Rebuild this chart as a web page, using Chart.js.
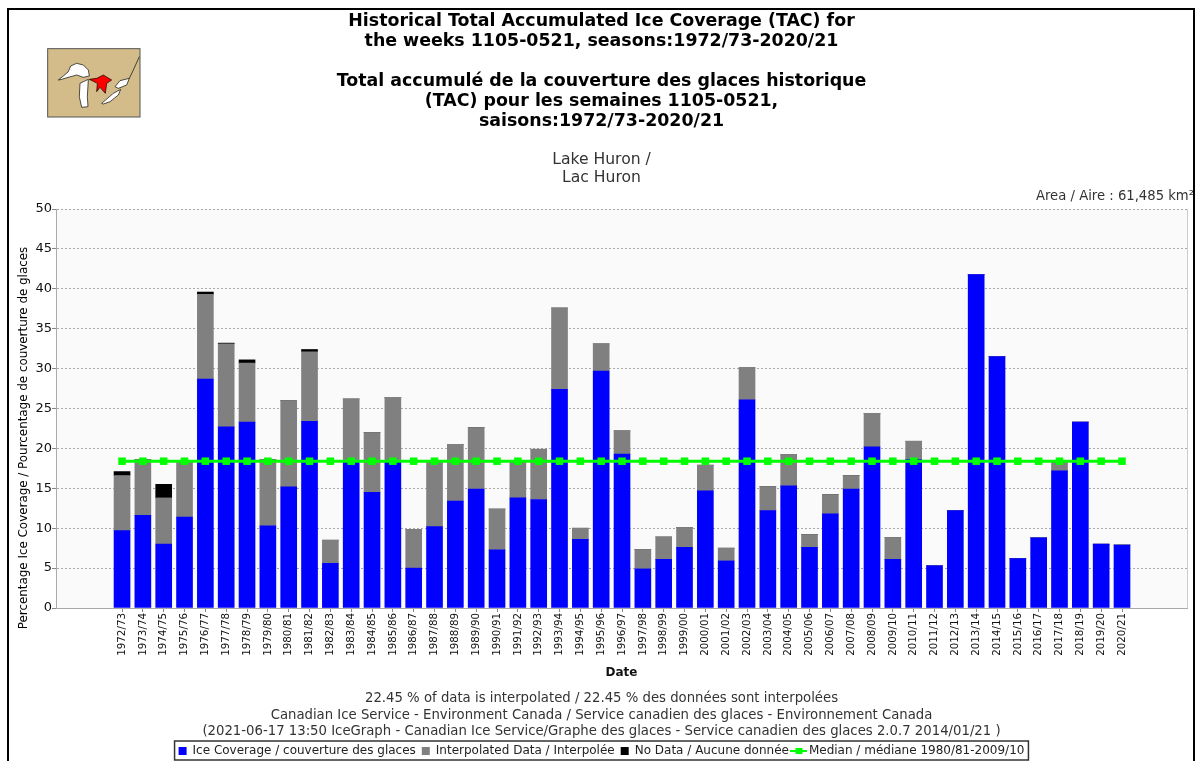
<!DOCTYPE html>
<html>
<head>
<meta charset="utf-8">
<style>
  html, body { margin: 0; padding: 0; background: #fff; overflow: hidden; }
  #wrap { width: 1197px; height: 761px; }
</style>
<script src="https://cdn.jsdelivr.net/npm/chart.js@4"></script>
</head>
<body>
<div id="wrap"><canvas id="myChart"></canvas></div>
<script>
const SEASONS = ["1972/73","1973/74","1974/75","1975/76","1976/77","1977/78","1978/79","1979/80","1980/81","1981/82","1982/83","1983/84","1984/85","1985/86","1986/87","1987/88","1988/89","1989/90","1990/91","1991/92","1992/93","1993/94","1994/95","1995/96","1996/97","1997/98","1998/99","1999/00","2000/01","2001/02","2002/03","2003/04","2004/05","2005/06","2006/07","2007/08","2008/09","2009/10","2010/11","2011/12","2012/13","2013/14","2014/15","2015/16","2016/17","2017/18","2018/19","2019/20","2020/21"];
const ICE_COVERAGE = [9.7,11.6,8.0,11.4,28.7,22.7,23.3,10.3,15.2,23.4,5.6,18.3,14.5,18.4,5.0,10.2,13.4,14.9,7.3,13.8,13.6,27.4,8.6,29.7,19.3,4.9,6.1,7.6,14.7,5.9,26.1,12.2,15.3,7.6,11.8,14.9,20.2,6.1,18.6,5.3,12.2,41.8,31.5,6.2,8.8,17.2,23.3,8.0,7.9];
const INTERPOLATED = [6.9,7.0,5.8,7.0,10.6,10.4,7.4,8.3,10.8,8.7,2.9,7.9,7.5,8.0,4.8,8.3,7.1,7.7,5.1,4.7,6.3,10.2,1.4,3.4,2.9,2.4,2.8,2.5,3.2,1.6,4.0,3.0,3.9,1.6,2.4,1.7,4.2,2.7,2.3,0,0,0,0,0,0,1.1,0,0,0];
const NO_DATA = [0.5,0,1.7,0,0.3,0.1,0.4,0,0,0.3,0,0,0,0,0,0,0,0,0,0,0,0,0,0,0,0,0,0,0,0,0,0,0,0,0,0,0,0,0,0,0,0,0,0,0,0,0,0,0];
const MEDIAN = [18.4,18.4,18.4,18.4,18.4,18.4,18.4,18.4,18.4,18.4,18.4,18.4,18.4,18.4,18.4,18.4,18.4,18.4,18.4,18.4,18.4,18.4,18.4,18.4,18.4,18.4,18.4,18.4,18.4,18.4,18.4,18.4,18.4,18.4,18.4,18.4,18.4,18.4,18.4,18.4,18.4,18.4,18.4,18.4,18.4,18.4,18.4,18.4,18.4];

const TITLE_LINES = [
  "Historical Total Accumulated Ice Coverage (TAC) for",
  "the weeks 1105-0521, seasons:1972/73-2020/21",
  "",
  "Total accumulé de la couverture des glaces historique",
  "(TAC) pour les semaines 1105-0521,",
  "saisons:1972/73-2020/21",
];
const LAKE_LINES = ["Lake Huron /", "Lac Huron"];
const FOOTER_LINES = [
  "22.45 % of data is interpolated / 22.45 % des données sont interpolées",
  "Canadian Ice Service - Environment Canada / Service canadien des glaces - Environnement Canada",
  "(2021-06-17 13:50 IceGraph - Canadian Ice Service/Graphe des glaces - Service canadien des glaces 2.0.7 2014/01/21 )",
];
const AREA_LABEL = "Area / Aire : 61,485 km²";
const Y_LABEL = "Percentage Ice Coverage / Pourcentage de couverture de glaces";

const FONT = "'DejaVu Sans', sans-serif";
const toPoints = (arr) => arr.map((v, i) => ({ x: i, y: v }));

// small line + square swatch for the median legend entry
const medianSwatch = document.createElement("canvas");
medianSwatch.width = 17;
medianSwatch.height = 8;
const sw = medianSwatch.getContext("2d");
sw.fillStyle = "#00ff00";
sw.fillRect(0, 3, 17, 2);
sw.fillRect(5, 1, 7, 6);

function drawMap(ctx) {
  // locator map, outlines traced in a 3x crop of the reference
  ctx.save();
  ctx.scale(1 / 3, 1 / 3);
  ctx.fillStyle = "#d3bc8a";
  ctx.fillRect(143, 146, 277, 205);
  ctx.strokeStyle = "#555";
  ctx.lineWidth = 3;
  ctx.strokeRect(143, 146, 277, 205);
  const lake = (d, fill) => {
    const p = new Path2D(d);
    ctx.fillStyle = fill;
    ctx.fill(p);
    ctx.strokeStyle = "#000";
    ctx.lineWidth = 2;
    ctx.stroke(p);
  };
  lake("M175 240 L190 228 L205 215 L212 198 L230 190 L250 195 L265 210 L268 228 L250 232 L230 225 L205 232 L185 238 Z", "#fff");
  lake("M240 250 L265 238 L262 290 L264 320 L245 322 L238 290 Z", "#fff");
  lake("M305 310 L340 280 L362 268 L355 285 L330 305 L310 312 Z", "#fff");
  lake("M345 260 L360 242 L388 235 L380 255 L355 265 Z", "#fff");
  lake("M268 238 L290 235 L310 225 L335 240 L320 250 L316 280 L300 262 L290 275 L292 250 Z", "#f00");
  ctx.beginPath();
  ctx.moveTo(388, 235);
  ctx.lineTo(400, 210);
  ctx.lineTo(418, 170);
  ctx.stroke();
  ctx.restore();
}

const pagePlugin = {
  id: "page",
  beforeDraw(chart) {
    const { ctx, chartArea: a } = chart;
    ctx.save();
    ctx.fillStyle = "#fff";
    ctx.fillRect(0, 0, chart.width, chart.height);
    ctx.fillStyle = "#fafafa";
    ctx.fillRect(a.left, a.top, a.right - a.left, a.bottom - a.top);
    ctx.strokeStyle = "#ccc";
    ctx.beginPath();
    ctx.moveTo(a.right + 0.5, a.top);
    ctx.lineTo(a.right + 0.5, a.bottom);
    ctx.stroke();
    ctx.restore();
  },
  afterDraw(chart) {
    const { ctx } = chart;
    ctx.save();
    // outer frame, runs off the bottom of the picture
    ctx.strokeStyle = "#000";
    ctx.lineWidth = 2;
    ctx.strokeRect(8, 9, 1186, 800);

    drawMap(ctx);

    ctx.fillStyle = "#333";
    ctx.textBaseline = "middle";
    ctx.textAlign = "center";
    ctx.font = "15.6px " + FONT;
    ctx.fillText(LAKE_LINES[0], 601.5, 160);
    ctx.fillText(LAKE_LINES[1], 601.5, 177.5);

    ctx.font = "13.2px " + FONT;
    ctx.textAlign = "right";
    ctx.fillText(AREA_LABEL, 1194, 197);

    // y title sits lower than the middle of the axis in the original
    ctx.save();
    ctx.translate(24, 438);
    ctx.rotate(-Math.PI / 2);
    ctx.textAlign = "center";
    ctx.fillStyle = "#000";
    ctx.font = "11.9px " + FONT;
    ctx.fillText(Y_LABEL, 0, 0);
    ctx.restore();

    // box round the legend
    const hit = chart.legend.legendHitBoxes;
    const last = hit[hit.length - 1];
    ctx.strokeStyle = "#333";
    ctx.lineWidth = 1.5;
    ctx.strokeRect(hit[0].left - 4, hit[0].top - 4, last.left + last.width - hit[0].left + 8, 19);
    ctx.restore();
  },
};

const data = {
  datasets: [
    {
      type: "line",
      label: "Median / médiane 1980/81-2009/10",
      data: toPoints(MEDIAN),
      order: 0,
      stack: "median",
      borderColor: "#00ff00",
      backgroundColor: "#00ff00",
      borderWidth: 3,
      pointStyle: "rect",
      pointRadius: 5.3,
      pointBackgroundColor: "#00ff00",
      pointBorderWidth: 0,
    },
    { label: "Ice Coverage / couverture des glaces", data: toPoints(ICE_COVERAGE), backgroundColor: "#0000ff", order: 1, stack: "ice", barThickness: 16 },
    { label: "Interpolated Data / Interpolée", data: toPoints(INTERPOLATED), backgroundColor: "#808080", order: 1, stack: "ice", barThickness: 16 },
    { label: "No Data / Aucune donnée", data: toPoints(NO_DATA), backgroundColor: "#000000", order: 1, stack: "ice", barThickness: 16 },
  ],
};

const config = {
  type: "bar",
  data: data,
  plugins: [pagePlugin],
  options: {
    responsive: true,
    maintainAspectRatio: false,
    animation: false,
    layout: { padding: { left: 16, right: 10, top: 11, bottom: -6 } },
    plugins: {
      title: {
        display: true,
        text: TITLE_LINES,
        color: "#000",
        font: { family: FONT, size: 17.4, weight: "bold", lineHeight: 1.15 },
        padding: { top: 0, bottom: 78 },
      },
      subtitle: {
        display: true,
        position: "bottom",
        weight: 500,
        text: FOOTER_LINES,
        color: "#333",
        font: { family: FONT, size: 13.25, lineHeight: 1.245 },
        padding: { top: 10.5, bottom: -1 },
      },
      legend: {
        position: "bottom",
        labels: {
          usePointStyle: true,
          boxHeight: 8,
          boxWidth: 8,
          padding: 6,
          color: "#222",
          font: { family: FONT, size: 12 },
          generateLabels(chart) {
            // bars first, the median last, same order as the original
            const order = [1, 2, 3, 0];
            return order.map((i) => {
              const ds = chart.data.datasets[i];
              const isLine = i === 0;
              return {
                text: ds.label,
                fillStyle: ds.backgroundColor,
                strokeStyle: ds.backgroundColor,
                lineWidth: 0,
                pointStyle: isLine ? medianSwatch : "rect",
                datasetIndex: i,
                fontColor: "#222",
              };
            });
          },
        },
      },
      tooltip: { enabled: false },
    },
    scales: {
      x: {
        type: "linear",
        offset: false,
        stacked: true,
        min: -3.17,
        max: 51.12,
        afterBuildTicks(axis) {
          axis.ticks = SEASONS.map((s, i) => ({ value: i }));
        },
        afterFit(axis) {
          axis.height = 72;
        },
        grid: { offset: false, drawOnChartArea: false, tickLength: 4, color: "#888" },
        border: { color: "#aaa", width: 1 },
        ticks: {
          autoSkip: false,
          minRotation: 90,
          maxRotation: 90,
          padding: 1,
          color: "#111",
          font: { family: FONT, size: 10.3 },
          callback: (value) => SEASONS[value],
        },
        title: {
          display: true,
          text: "Date",
          color: "#111",
          font: { family: FONT, size: 12, weight: "bold" },
          padding: { top: 2, bottom: 0 },
        },
      },
      y: {
        min: 0,
        max: 50,
        stacked: true,
        afterFit(axis) {
          axis.width = 40;
        },
        grid: { color: "#aaa", lineWidth: 1, tickLength: 4, tickColor: "#888" },
        border: { color: "#aaa", width: 1, dash: [2, 2] },
        ticks: {
          stepSize: 5,
          padding: 0,
          color: "#111",
          font: { family: FONT, size: 13 },
        },
      },
    },
  },
};

const myChart = new Chart(document.getElementById("myChart"), config);
</script>
</body>
</html>
